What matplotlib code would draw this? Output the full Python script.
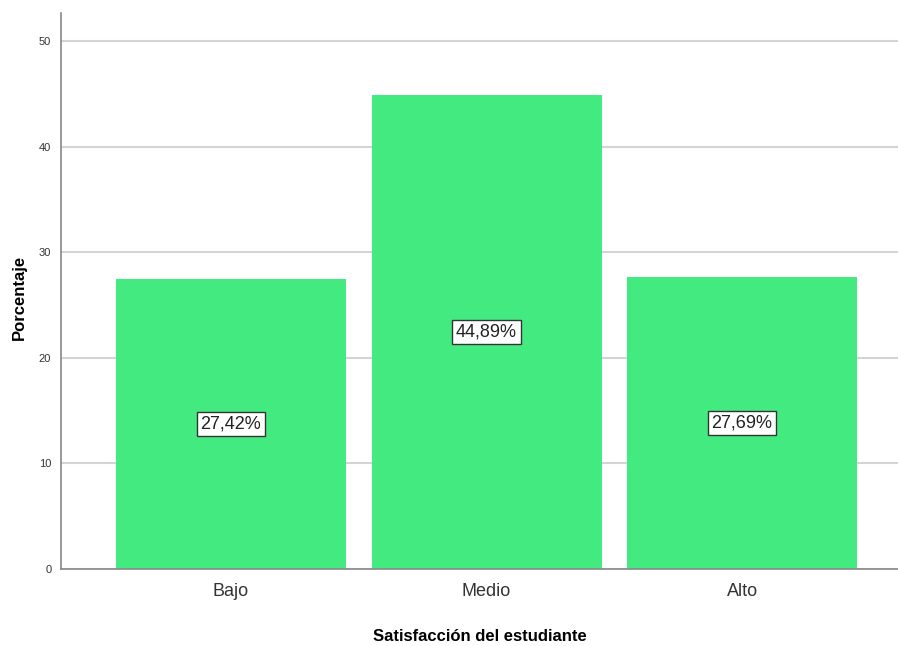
import matplotlib
matplotlib.use("Agg")
import matplotlib.pyplot as plt

categorias = ["Bajo", "Medio", "Alto"]
porcentajes = [27.42, 44.89, 27.69]
etiquetas = ["27,42%", "44,89%", "27,69%"]
yticks = [0, 10, 20, 30, 40, 50]

fuente = ["Liberation Sans", "DejaVu Sans"]

fig = plt.figure(figsize=(8.98, 6.46), dpi=100)
ax = fig.add_axes([61/898, 77/646, 837/898, 556/646])

x = list(range(len(categorias)))
ax.bar(x, porcentajes, width=0.9, color="#42EA80", zorder=2)

for xi, v, t in zip(x, porcentajes, etiquetas):
    ax.text(xi, v/2, t, ha="center", va="center", fontsize=13, family=fuente,
            color="#222222", zorder=3,
            bbox=dict(boxstyle="square,pad=0.2", fc="white", ec="#333333", lw=1))

ax.set_xlim(-0.665, 2.61)
ax.set_ylim(0, 52.65)
ax.set_yticks(yticks)
ax.set_yticklabels([str(v) for v in yticks], fontsize=8, family=fuente, color="#333333")
ax.set_xticks(x)
ax.set_xticklabels(categorias, fontsize=13, family=fuente, color="#333333")
ax.tick_params(axis="x", length=0, pad=10)
ax.tick_params(axis="y", length=0, pad=7)

ax.yaxis.grid(True, color="#d4d4d4", lw=1.5, zorder=0)
for s in ["top", "right"]:
    ax.spines[s].set_visible(False)
for s in ["left", "bottom"]:
    ax.spines[s].set_color("#888888")
    ax.spines[s].set_linewidth(1.2)

ax.set_xlabel("Satisfacción del estudiante", fontsize=12, fontweight="bold",
              family=fuente, labelpad=21)
ax.set_ylabel("Porcentaje", fontsize=12, fontweight="bold", family=fuente)
ax.yaxis.set_label_coords(-0.041, 0.489)

fig.savefig("out.png", dpi=100)
